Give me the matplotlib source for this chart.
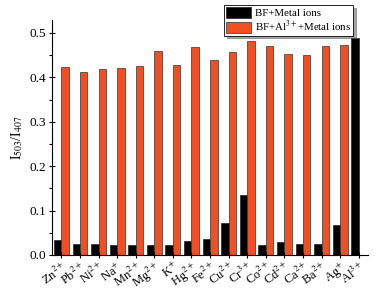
import matplotlib
matplotlib.use("Agg")
import matplotlib.pyplot as plt
import numpy as np
from matplotlib.ticker import MultipleLocator

categories = ["Zn$^{2+}$", "Pb$^{2+}$", "Ni$^{2+}$", "Na$^{+}$", "Mn$^{2+}$", "Mg$^{2+}$",
              "K$^{+}$", "Hg$^{2+}$", "Fe$^{2+}$", "Cu$^{2+}$", "Cr$^{3+}$", "Co$^{2+}$",
              "Cd$^{2+}$", "Ca$^{2+}$", "Ba$^{2+}$", "Ag$^{+}$", "Al$^{3+}$"]
bf_metal = [0.034, 0.025, 0.025, 0.022, 0.022, 0.023, 0.023, 0.031, 0.036, 0.072,
            0.136, 0.022, 0.029, 0.024, 0.024, 0.067, 0.488]
bf_al_metal = [0.423, 0.411, 0.419, 0.422, 0.426, 0.459, 0.427, 0.468, 0.438, 0.458,
               0.482, 0.470, 0.452, 0.451, 0.471, 0.472, np.nan]

plt.rcParams['font.family'] = ['Liberation Serif', 'DejaVu Serif']
plt.rcParams['mathtext.fontset'] = 'stix'

fig = plt.figure(figsize=(3.83, 2.91), dpi=100)
ax = fig.add_axes([0.136, 0.124, 0.825, 0.807])

x = np.arange(len(categories))
w = 0.4
ax.bar(x - w/2, bf_metal, width=w, color='black', edgecolor='#222222', linewidth=0.5,
       label='BF+Metal ions')
ax.bar(x + w/2, bf_al_metal, width=w, color='#F04E23', edgecolor='#333333', linewidth=0.5,
       label='BF+Al$^{3+}$+Metal ions')

ax.set_xlim(-0.5, 16.5)
ax.set_ylim(0, 0.529)
ax.set_xticks(x)
ax.set_xticklabels(categories, rotation=35, ha='right', rotation_mode='anchor', fontsize=9)
ax.yaxis.set_major_locator(MultipleLocator(0.1))
ax.yaxis.set_minor_locator(MultipleLocator(0.05))
ax.set_yticks([0.0, 0.1, 0.2, 0.3, 0.4, 0.5])
ax.set_yticklabels(["0.0", "0.1", "0.2", "0.3", "0.4", "0.5"], fontsize=9.5)
ax.tick_params(axis='x', direction='inout', length=5, width=0.8, pad=1)
ax.tick_params(axis='y', which='major', direction='inout', length=5, width=0.8, pad=2)
ax.tick_params(axis='y', which='minor', direction='out', length=2.5, width=0.8)
for s in ['top', 'right']:
    ax.spines[s].set_visible(False)
for s in ['left', 'bottom']:
    ax.spines[s].set_linewidth(0.8)

ax.set_ylabel("I$_{503}$/I$_{407}$", fontsize=10, labelpad=3)

leg = ax.legend(loc='upper right', bbox_to_anchor=(353/383, 1 - 5/291),
                bbox_transform=fig.transFigure, fontsize=7.8, frameon=True,
                fancybox=False, shadow=True, edgecolor='black',
                handlelength=2.3, handleheight=1.2, borderpad=0.15,
                labelspacing=0.1, handletextpad=0.4, borderaxespad=0)
leg.get_frame().set_linewidth(0.6)

fig.savefig("out.png", dpi=100)
